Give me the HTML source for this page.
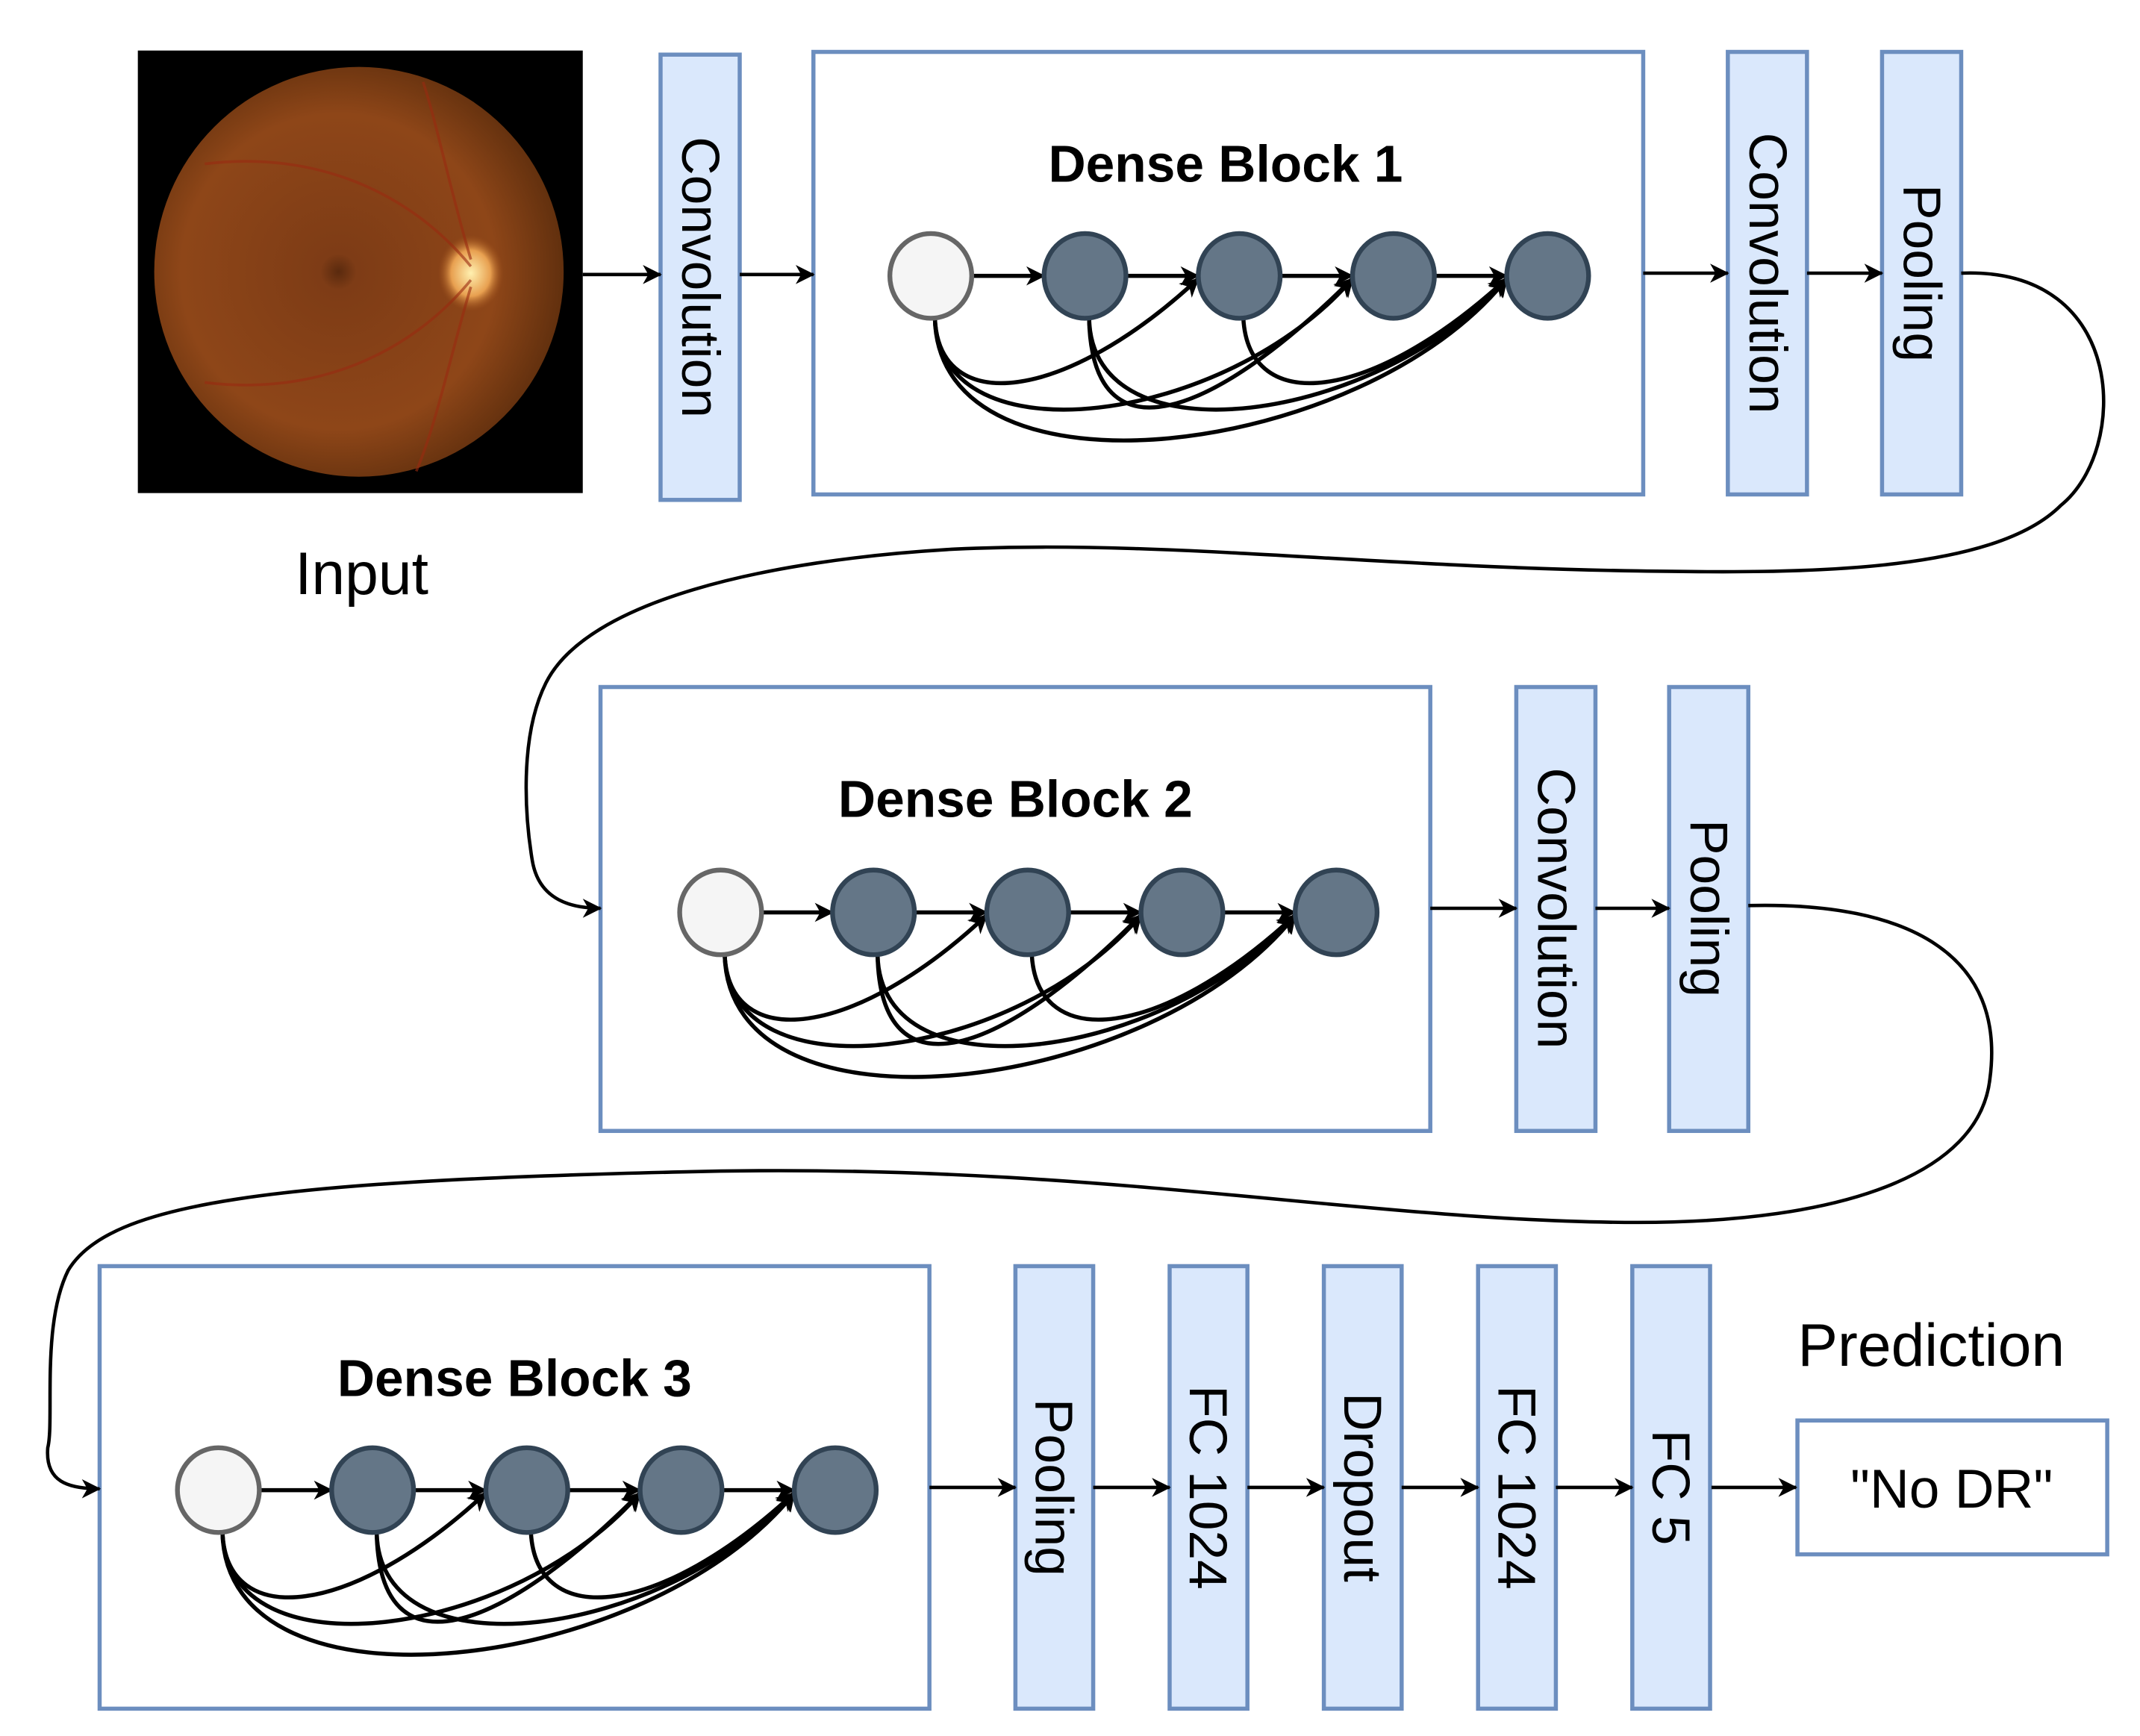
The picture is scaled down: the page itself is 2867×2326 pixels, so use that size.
<!DOCTYPE html>
<html><head><meta charset="utf-8"><style>html,body{margin:0;padding:0;background:#fff}svg{display:block}</style></head>
<body>
<svg width="2867" height="2326" viewBox="0 0 1568 1271" preserveAspectRatio="none" xmlns="http://www.w3.org/2000/svg" font-family="Liberation Sans, sans-serif">
<defs>
<marker id="b" markerWidth="14" markerHeight="14" refX="13" refY="7" orient="auto" markerUnits="userSpaceOnUse" viewBox="0 0 14 14"><path d="M0,0 L14,7 L0,14 L4,7 z" fill="#000"/></marker>
<radialGradient id="eye" cx="0.45" cy="0.5" r="0.55"><stop offset="0" stop-color="#5a2a0e"/><stop offset="0.08" stop-color="#7e3c16"/><stop offset="0.7" stop-color="#8e4618"/><stop offset="1" stop-color="#62300e"/></radialGradient>
<radialGradient id="disc" cx="0.5" cy="0.5" r="0.5"><stop offset="0" stop-color="#fff0b0"/><stop offset="0.6" stop-color="#e8a050"/><stop offset="1" stop-color="#a0521c" stop-opacity="0"/></radialGradient>
</defs>
<rect width="1568" height="1271" fill="#fff"/>
<rect x="101" y="37" width="326" height="324" fill="#000"/>
<circle cx="263" cy="199" r="150" fill="url(#eye)"/>
<ellipse cx="345" cy="200" rx="24" ry="28" fill="url(#disc)"/>
<g stroke="#9a2a10" stroke-width="2" fill="none" opacity="0.6">
<path d="M345,195 C300,140 230,110 150,120"/><path d="M345,205 C300,260 230,290 150,280"/><path d="M345,190 C330,140 320,90 310,60"/><path d="M345,210 C330,260 320,310 305,345"/>
</g>
<text x="265" y="435" font-size="44" text-anchor="middle">Input</text>
<g fill="#dae8fc" stroke="#6c8ebf" stroke-width="3">
<rect x="484" y="40" width="58" height="326"/>
<rect x="1266" y="38" width="58" height="324"/>
<rect x="1379" y="38" width="58" height="324"/>
<rect x="1111" y="503" width="58" height="325"/>
<rect x="1223" y="503" width="58" height="325"/>
<rect x="744" y="927" width="57" height="324"/>
<rect x="857" y="927" width="57" height="324"/>
<rect x="970" y="927" width="57" height="324"/>
<rect x="1083" y="927" width="57" height="324"/>
<rect x="1196" y="927" width="57" height="324"/>
</g>
<g fill="#fff" stroke="#6c8ebf" stroke-width="3">
<rect x="596" y="38" width="608" height="324"/>
<rect x="440" y="503" width="608" height="325"/>
<rect x="73" y="927" width="608" height="324"/>
<rect x="1317" y="1040" width="227" height="98"/>
</g>
<g font-size="39" text-anchor="middle" dominant-baseline="central">
<text transform="translate(513,203) rotate(90)">Convolution</text>
<text transform="translate(1295,200) rotate(90)">Convolution</text>
<text transform="translate(1408,200) rotate(90)">Pooling</text>
<text transform="translate(1140,665) rotate(90)">Convolution</text>
<text transform="translate(1252,665) rotate(90)">Pooling</text>
<text transform="translate(772,1089) rotate(90)">Pooling</text>
<text transform="translate(885,1089) rotate(90)">FC 1024</text>
<text transform="translate(998,1089) rotate(90)">Dropout</text>
<text transform="translate(1111,1089) rotate(90)">FC 1024</text>
<text transform="translate(1224,1089) rotate(90)">FC 5</text>
<text x="1430" y="1090" font-size="40">"No DR"</text>
</g>
<text x="1415" y="1000" font-size="44" text-anchor="middle">Prediction</text>
<g font-size="38" font-weight="bold" text-anchor="middle">
<text x="898" y="133">Dense Block 1</text>
<text x="744" y="598">Dense Block 2</text>
<text x="377" y="1022">Dense Block 3</text>
</g>
<g stroke="#000" stroke-width="2.5" fill="none" marker-end="url(#b)">
<path d="M427,201 H484"/><path d="M542,201 H596"/><path d="M1204,200 H1266"/><path d="M1324,200 H1379"/>
<path d="M1048,665 H1111"/><path d="M1169,665 H1223"/>
<path d="M681,1089 H744"/><path d="M801,1089 H857"/><path d="M914,1089 H970"/><path d="M1027,1089 H1083"/><path d="M1140,1089 H1196"/><path d="M1254,1089 H1316"/>
<path d="M1437,200 C1560,195 1560,330 1510,370 C1460,420 1320,420 1200,418 C1000,415 850,395 700,402 C560,410 430,440 400,500 C380,540 385,600 390,630 C395,660 420,665 440,665"/>
<path d="M1281,663 C1400,660 1470,700 1458,790 C1450,860 1350,895 1200,895 C1000,895 800,850 500,858 C200,865 80,880 50,930 C30,970 40,1040 35,1060 C33,1085 50,1090 73,1090"/>
</g>
<g stroke="#000" stroke-width="3" fill="none" marker-end="url(#b)">
<path d="M712,202 H765"/><path d="M825,202 H878"/><path d="M938,202 H991"/><path d="M1051,202 H1104"/>
<path d="M685,233 C688,305 780,295 878,204"/><path d="M685,233 C688,340 900,310 991,204"/><path d="M685,233 C688,375 1000,335 1104,204"/>
<path d="M798,233 C800,340 890,305 991,204"/><path d="M798,233 C800,340 1010,310 1104,204"/><path d="M911,233 C915,305 1005,295 1104,204"/>
<path d="M558,668 H610"/><path d="M670,668 H723"/><path d="M783,668 H836"/><path d="M896,668 H949"/>
<path d="M531,699 C534,771 626,761 723,670"/><path d="M531,699 C534,806 746,776 836,670"/><path d="M531,699 C534,841 846,801 949,670"/>
<path d="M643,699 C645,806 736,771 836,670"/><path d="M643,699 C645,806 856,776 949,670"/><path d="M756,699 C760,771 851,761 949,670"/>
<path d="M190,1091 H243"/><path d="M303,1091 H356"/><path d="M416,1091 H469"/><path d="M529,1091 H582"/>
<path d="M163,1122 C166,1194 258,1184 356,1093"/><path d="M163,1122 C166,1229 378,1199 469,1093"/><path d="M163,1122 C166,1264 478,1224 582,1093"/>
<path d="M276,1122 C278,1229 369,1194 469,1093"/><path d="M276,1122 C278,1229 489,1199 582,1093"/><path d="M389,1122 C393,1194 484,1184 582,1093"/>
</g>
<g stroke-width="3.5">
<ellipse cx="682" cy="202" rx="30" ry="31" fill="#f5f5f5" stroke="#666"/>
<ellipse cx="795" cy="202" rx="30" ry="31" fill="#647687" stroke="#314354"/>
<ellipse cx="908" cy="202" rx="30" ry="31" fill="#647687" stroke="#314354"/>
<ellipse cx="1021" cy="202" rx="30" ry="31" fill="#647687" stroke="#314354"/>
<ellipse cx="1134" cy="202" rx="30" ry="31" fill="#647687" stroke="#314354"/>
<ellipse cx="528" cy="668" rx="30" ry="31" fill="#f5f5f5" stroke="#666"/>
<ellipse cx="640" cy="668" rx="30" ry="31" fill="#647687" stroke="#314354"/>
<ellipse cx="753" cy="668" rx="30" ry="31" fill="#647687" stroke="#314354"/>
<ellipse cx="866" cy="668" rx="30" ry="31" fill="#647687" stroke="#314354"/>
<ellipse cx="979" cy="668" rx="30" ry="31" fill="#647687" stroke="#314354"/>
<ellipse cx="160" cy="1091" rx="30" ry="31" fill="#f5f5f5" stroke="#666"/>
<ellipse cx="273" cy="1091" rx="30" ry="31" fill="#647687" stroke="#314354"/>
<ellipse cx="386" cy="1091" rx="30" ry="31" fill="#647687" stroke="#314354"/>
<ellipse cx="499" cy="1091" rx="30" ry="31" fill="#647687" stroke="#314354"/>
<ellipse cx="612" cy="1091" rx="30" ry="31" fill="#647687" stroke="#314354"/>
</g>
</svg>
</body></html>
